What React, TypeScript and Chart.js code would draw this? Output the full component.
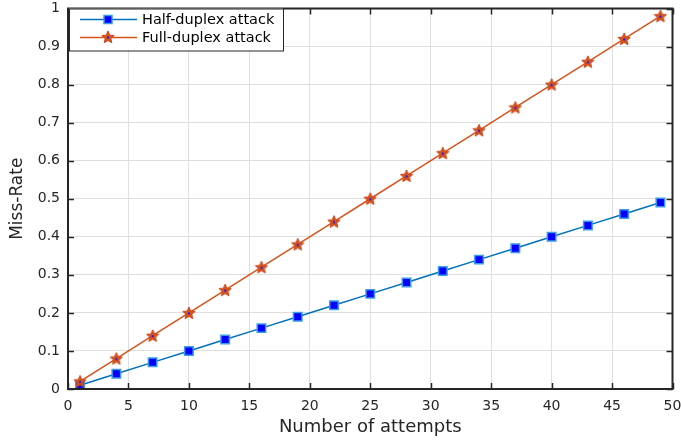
import React, { useEffect, useRef } from 'react';
import { Chart, registerables } from 'chart.js';
Chart.register(...registerables);

const attempts = [1, 4, 7, 10, 13, 16, 19, 22, 25, 28, 31, 34, 37, 40, 43, 46, 49];
const halfDuplex = [0.01, 0.04, 0.07, 0.10, 0.13, 0.16, 0.19, 0.22, 0.25, 0.28, 0.31, 0.34, 0.37, 0.40, 0.43, 0.46, 0.49];
const fullDuplex = [0.02, 0.08, 0.14, 0.20, 0.26, 0.32, 0.38, 0.44, 0.50, 0.56, 0.62, 0.68, 0.74, 0.80, 0.86, 0.92, 0.98];
const seriesLabels = ['Half-duplex attack', 'Full-duplex attack'];
const xTitle = 'Number of attempts';
const yTitle = 'Miss-Rate';

const BLUE = '#0072BD';
const ORANGE = '#D95319';
const AXIS = '#262626';
const FONT = "'DejaVu Sans', 'Liberation Sans', Arial, sans-serif";

function makeStar(size: number): HTMLCanvasElement {
  const c = document.createElement('canvas');
  c.width = size;
  c.height = size;
  const ctx = c.getContext('2d')!;
  const cx = size / 2, cy = size / 2 + 0.5;
  const R = size / 2 - 0.5, r = R * 0.45;
  ctx.beginPath();
  for (let i = 0; i < 10; i++) {
    const a = -Math.PI / 2 + (i * Math.PI) / 5;
    const rad = i % 2 === 0 ? R : r;
    ctx.lineTo(cx + rad * Math.cos(a), cy + rad * Math.sin(a));
  }
  ctx.closePath();
  ctx.fillStyle = ORANGE;
  ctx.fill();
  ctx.strokeStyle = '#c8461a';
  ctx.lineWidth = 1;
  ctx.stroke();
  ctx.fillStyle = '#1a1aff';
  ctx.fillRect(cx - 1, cy - 1, 2, 2);
  return c;
}

export default function App() {
  const ref = useRef<HTMLCanvasElement>(null);

  useEffect(() => {
    document.body.style.margin = '0';
    const canvas = ref.current!;
    const star = makeStar(14);

    const framePlugin = {
      id: 'frame',
      beforeDraw(chart: any) {
        const ctx = chart.ctx;
        ctx.save();
        ctx.fillStyle = '#ffffff';
        ctx.fillRect(0, 0, chart.width, chart.height);
        ctx.restore();
      },
      afterDraw(chart: any) {
        const ctx = chart.ctx;
        const { left, right, top, bottom } = chart.chartArea;
        const xs = chart.scales.x, ys = chart.scales.y;
        ctx.save();
        ctx.strokeStyle = AXIS;
        ctx.lineWidth = 1.5;
        const tl = 6;
        ctx.beginPath();
        xs.ticks.forEach((t: any) => {
          const px = Math.round(xs.getPixelForValue(t.value)) + 0.5;
          ctx.moveTo(px, bottom);
          ctx.lineTo(px, bottom - tl);
          ctx.moveTo(px, top);
          ctx.lineTo(px, top + tl);
        });
        ys.ticks.forEach((t: any) => {
          const py = Math.round(ys.getPixelForValue(t.value)) + 0.5;
          ctx.moveTo(left, py);
          ctx.lineTo(left + tl, py);
          ctx.moveTo(right, py);
          ctx.lineTo(right - tl, py);
        });
        ctx.stroke();
        ctx.lineWidth = 2;
        ctx.strokeRect(left, top, right - left, bottom - top);

        // legend
        const lx = left + 1, ly = top, lw = 283 - lx, lh = 42;
        ctx.fillStyle = '#ffffff';
        ctx.fillRect(lx, ly, lw, lh);
        ctx.lineWidth = 1;
        ctx.strokeStyle = AXIS;
        ctx.strokeRect(lx + 0.5, ly + 0.5, lw, lh);
        const rows = [
          { y: 19.5, color: BLUE, label: seriesLabels[0], kind: 'rect' },
          { y: 37.5, color: ORANGE, label: seriesLabels[1], kind: 'star' },
        ];
        ctx.font = `14.5px ${FONT}`;
        ctx.textBaseline = 'middle';
        ctx.textAlign = 'left';
        rows.forEach((r) => {
          ctx.strokeStyle = r.color;
          ctx.lineWidth = 1.5;
          ctx.beginPath();
          ctx.moveTo(80, r.y);
          ctx.lineTo(137, r.y);
          ctx.stroke();
          if (r.kind === 'rect') {
            ctx.fillStyle = '#0000ff';
            ctx.fillRect(104, r.y - 4, 8, 8);
            ctx.strokeStyle = '#3b9be6';
            ctx.lineWidth = 1.5;
            ctx.strokeRect(104, r.y - 4, 8, 8);
          } else {
            ctx.drawImage(star, 108 - 7, r.y - 7.5);
          }
          ctx.fillStyle = '#000000';
          ctx.fillText(r.label, 142, r.y + 0.5);
        });
        ctx.restore();
      },
    };

    const chart = new Chart(canvas, {
      type: 'line',
      data: {
        datasets: [
          {
            label: seriesLabels[0],
            data: attempts.map((x, i) => ({ x, y: halfDuplex[i] })),
            borderColor: BLUE,
            borderWidth: 1.5,
            backgroundColor: '#0000ff',
            pointBackgroundColor: '#0000ff',
            pointBorderColor: '#3b9be6',
            pointBorderWidth: 1.5,
            pointStyle: 'rect',
            pointRadius: 6,
            order: 1,
          },
          {
            label: seriesLabels[1],
            data: attempts.map((x, i) => ({ x, y: fullDuplex[i] })),
            borderColor: ORANGE,
            borderWidth: 1.5,
            pointStyle: star as any,
            pointRadius: 7,
            order: 0,
          },
        ],
      },
      options: {
        responsive: false,
        animation: false,
        events: [],
        layout: { padding: { left: 0, right: 4, top: 7, bottom: 0 } },
        plugins: { legend: { display: false }, tooltip: { enabled: false } },
        scales: {
          x: {
            type: 'linear',
            min: 0,
            max: 50,
            border: { display: false },
            grid: { color: '#dfdfdf', lineWidth: 1, drawTicks: false },
            ticks: { stepSize: 5, padding: 9, color: '#262626', font: { family: FONT, size: 14 }, maxRotation: 0 },
            title: { display: true, text: xTitle, color: '#262626', font: { family: FONT, size: 18 }, padding: { top: 0, bottom: 3 } },
            afterFit: (s: any) => { s.height = 52; s.paddingLeft = 0; s.paddingRight = 0; },
          },
          y: {
            type: 'linear',
            min: 0,
            max: 1,
            border: { display: false },
            grid: { color: '#dfdfdf', lineWidth: 1, drawTicks: false },
            ticks: {
              stepSize: 0.1,
              padding: 8,
              color: '#262626',
              font: { family: FONT, size: 14 },
              callback: (v: any) => String(Number(Number(v).toFixed(1))),
            },
            title: { display: true, text: yTitle, color: '#262626', font: { family: FONT, size: 17 }, padding: { top: 7, bottom: 0 } },
            afterFit: (s: any) => { s.width = 68; s.paddingTop = 0; s.paddingBottom = 0; },
          },
        },
      },
      plugins: [framePlugin],
    });
    return () => chart.destroy();
  }, []);

  return <canvas ref={ref} width={681} height={441} style={{ display: 'block', width: 681, height: 441 }} />;
}
